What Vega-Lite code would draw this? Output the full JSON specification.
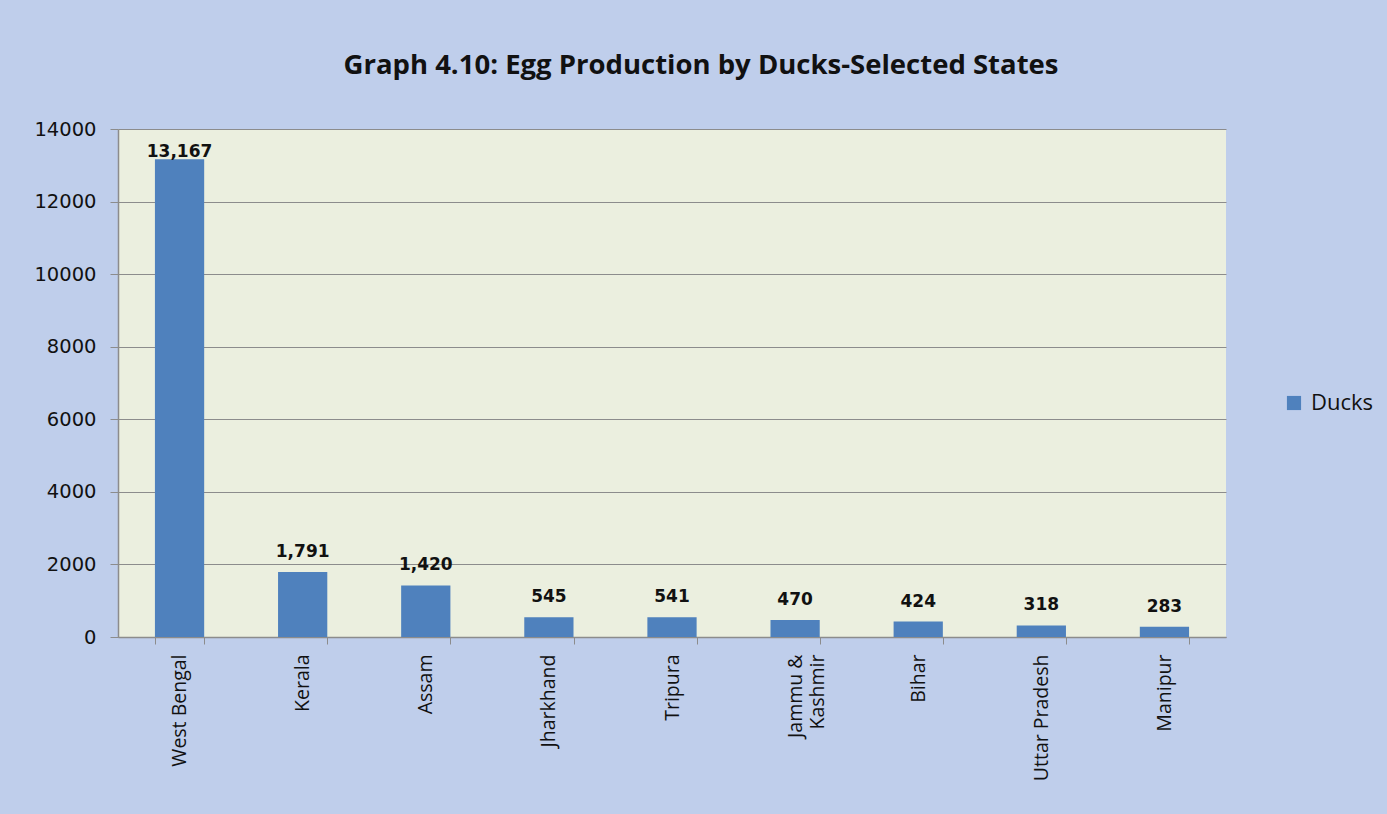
{
  "$schema": "https://vega.github.io/schema/vega-lite/v6.json",
  "autosize": {"type": "none"},
  "width": 1108,
  "height": 508,
  "padding": {"left": 118, "top": 129, "right": 161, "bottom": 177},
  "background": "#bfceeb",
  "title": {
    "text": "Graph 4.10: Egg Production by Ducks-Selected States",
    "font": "Open Sans",
    "fontSize": 27.5,
    "fontWeight": "bold",
    "color": "#111111",
    "anchor": "middle",
    "dx": 29,
    "offset": 40
  },
  "data": {
    "values": [
      {"state": "West Bengal", "value": 13167, "series": "Ducks"},
      {"state": "Kerala", "value": 1791, "series": "Ducks"},
      {"state": "Assam", "value": 1420, "series": "Ducks"},
      {"state": "Jharkhand", "value": 545, "series": "Ducks"},
      {"state": "Tripura", "value": 541, "series": "Ducks"},
      {"state": "Jammu & Kashmir", "value": 470, "series": "Ducks"},
      {"state": "Bihar", "value": 424, "series": "Ducks"},
      {"state": "Uttar Pradesh", "value": 318, "series": "Ducks"},
      {"state": "Manipur", "value": 283, "series": "Ducks"}
    ]
  },
  "encoding": {
    "x": {
      "field": "state",
      "type": "nominal",
      "sort": null,
      "scale": {"paddingInner": 0.6, "paddingOuter": 0.3},
      "axis": {
        "title": null,
        "labelAngle": -90,
        "labelFont": "Open Sans",
        "labelFontSize": 19.5,
        "labelColor": "#111111",
        "labelPadding": 10,
        "labelLineHeight": 22,
        "labelExpr": "datum.value == 'Jammu & Kashmir' ? ['Jammu &', 'Kashmir'] : datum.value",
        "tickBand": "extent",
        "tickSize": 7,
        "tickColor": "#8c8c8c",
        "domainColor": "#8c8c8c",
        "domainWidth": 1.5,
        "grid": false
      }
    },
    "y": {
      "field": "value",
      "type": "quantitative",
      "scale": {"domain": [0, 14000]},
      "axis": {
        "title": null,
        "values": [0, 2000, 4000, 6000, 8000, 10000, 12000, 14000],
        "format": "d",
        "labelFont": "DejaVu Sans",
        "labelFontSize": 19.5,
        "labelColor": "#111111",
        "labelPadding": 14,
        "tickSize": 8,
        "tickColor": "#8c8c8c",
        "domainColor": "#8c8c8c",
        "domainWidth": 1.5,
        "gridColor": "#8c8c8c",
        "gridWidth": 1
      }
    }
  },
  "layer": [
    {
      "mark": {"type": "bar", "color": "#4f81bd"},
      "encoding": {
        "color": {
          "field": "series",
          "type": "nominal",
          "scale": {"range": ["#4f81bd"]},
          "legend": {
            "title": null,
            "orient": "none",
            "legendX": 1165,
            "legendY": 263,
            "symbolType": "square",
            "symbolSize": 200,
            "symbolStrokeWidth": 0,
            "labelFont": "Open Sans",
            "labelFontSize": 22,
            "labelColor": "#111111",
            "labelOffset": 6
          }
        }
      }
    },
    {
      "mark": {
        "type": "text",
        "baseline": "bottom",
        "dy": {"expr": "datum.value > 13000 ? 2 : -11"},
        "font": "DejaVu Sans",
        "fontSize": 17,
        "fontWeight": "bold",
        "color": "#111111"
      },
      "encoding": {
        "text": {"field": "value", "type": "quantitative", "format": ","}
      }
    }
  ],
  "config": {
    "view": {"fill": "#ebefdf", "stroke": null}
  }
}
